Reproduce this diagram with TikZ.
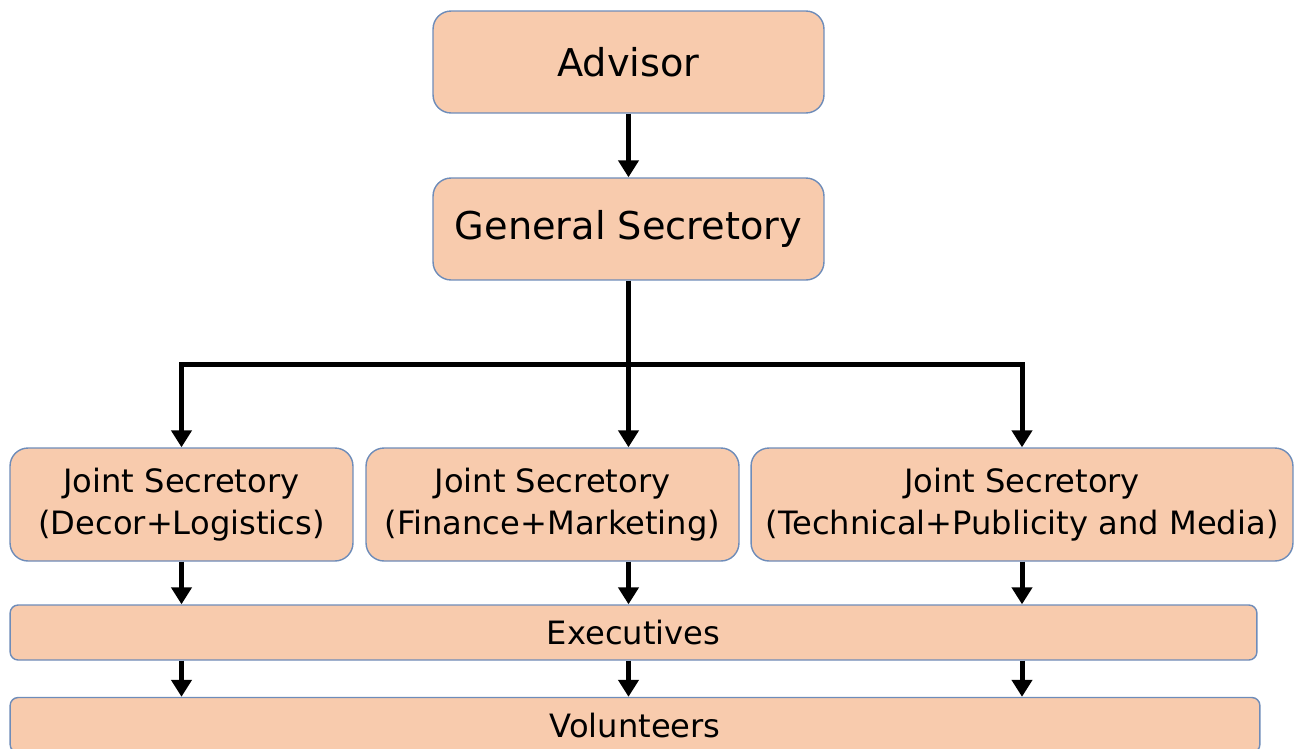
\documentclass[tikz,border=0pt]{standalone}
\usepackage{fontspec}
\setmainfont{DejaVu Sans}
\usepackage{tikz}
\usetikzlibrary{arrows.meta, positioning, calc}
\definecolor{boxfill}{RGB}{248,203,173}
\definecolor{boxline}{RGB}{110,140,185}

\begin{document}
\begin{tikzpicture}[
    x=0.02cm, y=-0.02cm,
    % ── Box styles ──
    rolebox/.style={rectangle, draw=boxline, fill=boxfill, line width=0.8pt,
                    rounded corners=0.36cm, minimum width=7.82cm, minimum height=2.04cm,
                    align=center, font=\fontsize{21.8}{26}\selectfont},
    jointbox/.style={rectangle, draw=boxline, fill=boxfill, line width=0.8pt,
                     rounded corners=0.36cm, minimum height=2.26cm,
                     align=center, font=\fontsize{18.3}{23.5}\selectfont},
    bandbox/.style={rectangle, draw=boxline, fill=boxfill, line width=0.8pt,
                    rounded corners=0.16cm, minimum height=1.1cm,
                    align=center, font=\fontsize{18.3}{22}\selectfont},
    arr/.style={-{Triangle[length=0.34cm, width=0.4cm]}, line width=0.1cm, black}
]
\useasboundingbox (0,0) rectangle (1294,748);

% ═══ Top levels ═══
\node[rolebox] (adv) at (628.5,62)  {Advisor};
\node[rolebox] (gs)  at (628.5,229) {General Secretory};

% ═══ Joint secretaries ═══
\node[jointbox, minimum width=6.86cm]  (js1) at (181.5,504.5) {Joint Secretory\\(Decor+Logistics)};
\node[jointbox, minimum width=7.46cm]  (js2) at (552.5,504.5) {Joint Secretory\\(Finance+Marketing)};
\node[jointbox, minimum width=10.84cm] (js3) at (1022,504.5)  {Joint Secretory\\(Technical+Publicity and Media)};

% ═══ Bottom bands ═══
\node[bandbox, minimum width=24.94cm] (exec) at (633.5,632.5) {Executives};
\node[bandbox, minimum width=25cm]    (vol)  at (635,725)     {Volunteers};

% ═══ Connectors ═══
\coordinate (bus) at (628.5,364);
\draw[arr] (adv) -- (gs);
\draw[arr] (gs.south) -- (gs.south |- js2.north);
\draw[arr] (bus) -| (js1.north);
\draw[arr] (bus) -| (js3.north);

\draw[arr] (js1.south) -- (js1.south |- exec.north);
\draw[arr] (js2.south -| gs) -- (exec.north -| gs);
\draw[arr] (js3.south) -- (js3.south |- exec.north);

\draw[arr] (exec.south -| js1) -- (vol.north -| js1);
\draw[arr] (exec.south -| gs)  -- (vol.north -| gs);
\draw[arr] (exec.south -| js3) -- (vol.north -| js3);

\end{tikzpicture}
\end{document}
